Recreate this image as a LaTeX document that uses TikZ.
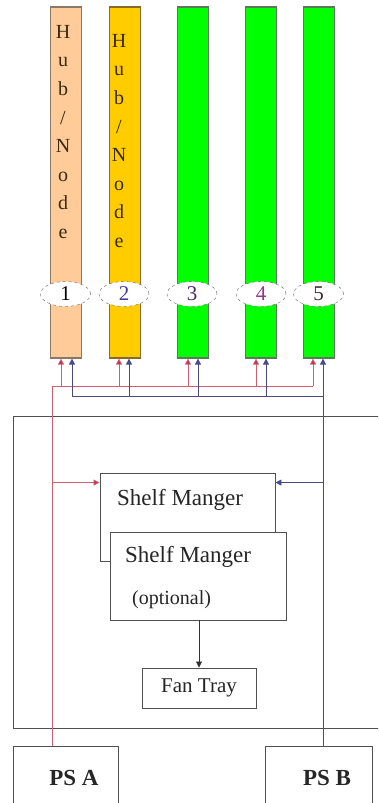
\documentclass[tikz,border=0pt]{standalone}
\usepackage{fontspec}
\setmainfont{Liberation Serif}
\usetikzlibrary{arrows.meta,calc,shapes.geometric}
\definecolor{peach}{HTML}{FFCC99}
\definecolor{gold}{HTML}{FFCC00}
\definecolor{lgreen}{HTML}{00FF00}
\definecolor{peachbd}{HTML}{8A7868}
\definecolor{goldbd}{HTML}{8A6A2A}
\definecolor{greenbd}{HTML}{5A7A5A}
\definecolor{redln}{HTML}{D06070}
\definecolor{redtip}{HTML}{C03050}
\definecolor{blueln}{HTML}{4A4A80}
\definecolor{bluetip}{HTML}{4050A0}
\definecolor{boxbd}{HTML}{505050}
\definecolor{hubtxt}{HTML}{3A2A10}
\begin{document}
\begin{tikzpicture}[x=1pt,y=-1pt,
  slot/.style={rectangle, minimum width=31, minimum height=351, line width=1.2pt, inner sep=0},
  slotnum/.style={ellipse, draw=gray!80!black, dashed, fill=white, minimum width=50, minimum height=25, inner sep=0, font=\fontsize{21}{22}\selectfont},
  hubtext/.style={align=center, inner sep=0, text=hubtxt, font=\fontsize{20}{28.6}\selectfont},
  redline/.style={draw=redln, line width=0.8pt},
  blueline/.style={draw=blueln, line width=0.8pt},
  redarr/.style={redline, -{Triangle[length=6pt,width=6pt,fill=redtip]}},
  bluearr/.style={blueline, -{Triangle[length=6pt,width=6pt,fill=bluetip]}},
  box/.style={rectangle, draw=boxbd, line width=0.9pt, fill=white, inner sep=0},
  lbl/.style={inner sep=0, anchor=base west, text=black!85}
]
\useasboundingbox (0,0) rectangle (378,803);
\clip (0,0) rectangle (378,803);
% columns
\node[slot, fill=peach, draw=peachbd] (c1) at (66,182.5) {};
\node[slot, fill=gold, draw=goldbd] (c2) at (125,182.5) {};
\node[slot, fill=lgreen, draw=greenbd] (c3) at (193,182.5) {};
\node[slot, fill=lgreen, draw=greenbd] (c4) at (261,182.5) {};
\node[slot, fill=lgreen, draw=greenbd] (c5) at (319,182.5) {};
\node[hubtext, anchor=north] (h1) at (63,25) {H\\u\\b\\/\\N\\o\\d\\e};
\node[hubtext, anchor=north] (h2) at (119,34) {H\\u\\b\\/\\N\\o\\d\\e};
% numbers
\node[slotnum] (n1) at (65.5,294) {1};
\node[slotnum, text={rgb,255:red,74;green,58;blue,154}] (n2) at (124,294) {2};
\node[slotnum, text={rgb,255:red,74;green,42;blue,90}] (n3) at (192,294) {3};
\node[slotnum, text={rgb,255:red,138;green,58;blue,138}] (n4) at (261,294) {4};
\node[slotnum, text={rgb,255:red,58;green,42;blue,42}] (n5) at (318.5,294) {5};
% main shelf box
\draw[boxbd, line width=0.9pt] (380,416) -- (13,416) -- (13,728) -- (380,728);
% shelf managers
\node[box, minimum width=175, minimum height=88] (sm1) at (187.5,517) {};
\node[lbl, font=\fontsize{23}{25}\selectfont] (sm1t) at (117,505) {Shelf Manger};
\node[box, minimum width=176, minimum height=88] (sm2) at (198,576) {};
\node[lbl, font=\fontsize{23}{25}\selectfont] (sm2t) at (125,562) {Shelf Manger};
\node[lbl, font=\fontsize{20}{22}\selectfont] (sm2o) at (132,604) {(optional)};
% fan tray
\node[box, minimum width=114, minimum height=40, font=\fontsize{21}{22}\selectfont, text=black!85] (fan) at (199,688) {Fan Tray};
% power supplies
\node[box, minimum width=105, minimum height=70] (psA) at (65.5,781) {};
\node[lbl, font=\fontsize{23}{25}\selectfont\bfseries, anchor=base] (psAt) at (74,785) {PS A};
\node[box, minimum width=107, minimum height=70] (psB) at (318.5,781) {};
\node[lbl, font=\fontsize{23}{25}\selectfont\bfseries, anchor=base] (psBt) at (327,785) {PS B};
% red feed
\coordinate (rL) at (52,386);
\coordinate (r1) at (61,386);
\coordinate (r2) at (119,386);
\coordinate (r3) at (188,386);
\coordinate (r4) at (256,386);
\coordinate (r5) at (313,386);
\draw[redline] (rL) -- (r5);
\foreach \i in {1,...,5} {\draw[redarr] (r\i) -- (r\i |- c\i.south);}
\draw[redline] (rL) -- (rL |- psA.north);
\coordinate (smL) at ($(sm1.north west)+(0,10)$);
\draw[redarr] (rL |- smL) -- (smL);
% blue feed
\coordinate (b1) at (72,396);
\coordinate (b2) at (129,396);
\coordinate (b3) at (198,396);
\coordinate (b4) at (266,396);
\coordinate (b5) at (323,396);
\draw[blueline] (b1) -- (b5);
\foreach \i in {1,...,5} {\draw[bluearr] (b\i) -- (b\i |- c\i.south);}
\draw[blueline] (b5) -- (b5 |- psB.north);
\coordinate (smR) at ($(sm1.north east)+(0,10)$);
\draw[bluearr] (b5 |- smR) -- (smR);
% fan arrow
\draw[line width=0.8pt, draw=black!80, -{Triangle[length=6pt,width=6pt]}] (sm2.south -| fan.north) -- (fan.north);
\end{tikzpicture}
\end{document}
